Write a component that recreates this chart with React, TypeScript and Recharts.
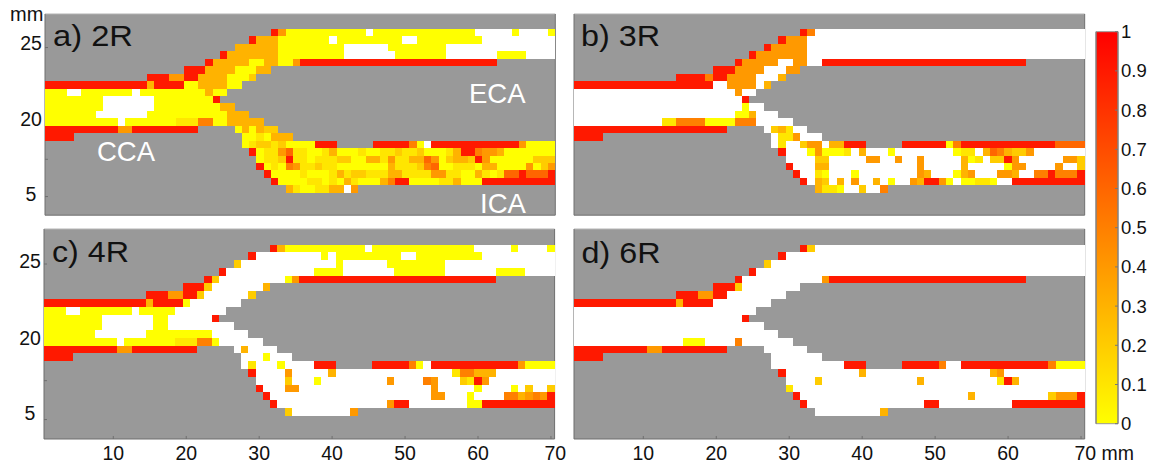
import {
  Bar,
  BarChart,
  CartesianGrid,
  Scatter,
  ScatterChart,
  XAxis,
  YAxis,
} from 'recharts';

// Each row is a list of runs: first char = value (0-9 tenths, - white, . no data), rest = run length
// Rows start at row 3 of 27, anything not listed is grey
const rows2R = [
  '.31 9 4 011 - 014 -5 0 -4 0',
  '.28 9 33 07 - 09 -2 09 -10',
  '.26 36 09 -6 08 -15',
  '.24 9 37 09 -7 07 -7 04 -4',
  '.22 9 35 02 32 02 4 927',
  '.19 93 34 03 32',
  '.14 93 42 92 34 03 2',
  '914 3 94 02 34 02',
  '03 -2 07 - 09 3 02',
  '08 -7 08 9',
  '08 -7 09 32',
  '07 -7 011 33',
  '010 - 07 13 52 02 35',
  '910 42 99 .5 0 3 0 3 2 2',
  '94 .23 02 1 0 33',
  '.27 0 1 22 1 2 04 93 .5 95 5 0 - 912 4 04',
  '.28 9 0 12 4 6 12 02 1 3 03 1 02 12 2 12 2 03 1 3 92 5 42 3 07',
  '.29 0 12 2 9 12 0 13 22 02 32 1 4 12 32 6 4 0 2 32 2 9 4 06 23',
  '.29 9 0 1 0 5 4 12 2 12 07 3 13 2 5 6 02 13 0 32 04 4 0 2 4',
  '.30 9 04 1 03 1 3 1 22 13 32 14 42 12 02 3 1 0 1 62 9 63 9',
  '.31 9 04 12 0 1 0 3 1 03 3 5 92 04 12 3 03 910',
  '.33 3 1 02 12 32 - 4',
];

const rows3R = [
  '.31 9 5 -37',
  '.28 9 43 -38',
  '.26 9 45 -38',
  '.24 9 47 -38',
  '.22 9 45 -2 42 -2 928',
  '.19 93 44 -3 42',
  '.14 94 5 92 44 -3 3',
  '919 -2 44 - 3',
  '-22 4 -2',
  '-23 9',
  '-23 0 -2',
  '-22 02 3 -3',
  '-12 12 54 04 53 -5',
  '921 .5 - 2 3 1 -2',
  '94 .23 - 12 4 -3',
  '.27 - 1 -2 2 42 - 32 93 .5 96 0 5 913 64',
  '.28 9 -3 0 4 03 1 - 3 -3 0 -8 0 12 - 3 6 5 3 22 4 -7',
  '.29 -4 22 -5 42 -2 4 -2 4 -5 3 0 1 - 22 9 4 -6 42 2',
  '.29 9 -3 32 -12 4 -5 3 -5 0 42 -4 4 -2 2',
  '.30 9 -2 1 0 -3 0 -8 4 3 -3 0 3 4 -3 42 3 -2 52 9 53 9',
  '.31 9 - 3 2 - 3 - 4 -2 3 - 0 -2 4 3 92 4 0 - 02 12 0 -2 910',
  '.33 3 12 0 -2 2 -2 5',
];

const rows4R = [
  '.31 9 3 011 - 014 -5 0 -4 0',
  '.28 9 -9 0 - 09 -2 09 -10',
  '.26 2 -13 0 -6 08 -15',
  '.24 9 -12 04 -7 07 -7 04 -4',
  '.22 9 2 -9 0 4 927',
  '.19 93 2 -7 3',
  '.14 93 42 92 2 -6 2',
  '914 3 94 0 -7',
  '03 -2 07 - 05 -7',
  '08 -7 02 -6 9',
  '08 -7 02 -9',
  '07 -7 09 -5',
  '010 - 07 13 52 0 -6',
  '910 42 99 .5 - 3 -4',
  '94 .23 -3 0 -3',
  '.27 - 1 -3 0 -4 93 .5 95 5 0 - 912 4 04',
  '.28 9 -4 4 -5 3 -16 1 52 33 -8',
  '.29 -4 2 -3 0 -9 4 -4 5 4 -3 2 1 9 4 -9',
  '.29 9 -3 42 -18 4 -5 0 -4 0 - 2 -2 2',
  '.30 9 -22 42 -3 0 -4 52 3 4 5 4 9',
  '.31 9 -15 4 92 -8 02 910',
  '.33 2 -8 4',
];

const rows6R = [
  '.31 9 2 -37',
  '.28 9 -41',
  '.26 2 -43',
  '.24 9 -45',
  '.22 9 -11 4 927',
  '.19 93 2 -8',
  '.14 93 42 92 -8',
  '914 3 94 -8',
  '-25',
  '-23 9',
  '-26',
  '-28',
  '-15 03 -4 5 -7',
  '910 42 99 .5 -6',
  '94 .23 -7',
  '.27 -10 93 .5 95 5 -2 912 5 04',
  '.28 9 -10 3 -17 3 4 -11',
  '.29 -4 2 -13 3 -10 1 9 3 -9',
  '.29 1 -40',
  '.30 9 -23 3 -10 2 43 9',
  '.31 9 -16 92 -10 910',
  '.33 -9 3',
];

const xTicks = [10, 20, 30, 40, 50, 60, 70];
const yTicks = [5, 10, 15, 20, 25];
const yTickLabels = ['25', '', '20', '', '5'];
const barTicks = [0, 0.1, 0.2, 0.3, 0.4, 0.5, 0.6, 0.7, 0.8, 0.9, 1];

const FONT = '"Liberation Sans", Arial, sans-serif';
const GREY = '#999999';
const AXIS = '#6e6e6e';
const TICK_FONT = 19.5;
const ROOM = 60; // spare width right of a panel so "70 mm" is not clipped

type Cell = { x: number; y: number; v: number | null };

const parseRows = (rows: string[]) => {
  const cells: Cell[] = [];
  rows.forEach((row, i) => {
    let col = 1;
    row.split(' ').forEach((run) => {
      const ch = run[0];
      const n = run.length > 1 ? Number(run.slice(1)) : 1;
      for (let k = 0; k < n; k++) {
        if (ch !== '.') cells.push({ x: col, y: i + 3, v: ch === '-' ? null : Number(ch) });
        col++;
      }
    });
  });
  return cells;
};

const cellColor = (v: number | null) =>
  v === null ? '#ffffff' : `rgb(255,${Math.round(255 * (1 - v / 10))},0)`;

type PanelProps = {
  rows: string[];
  left: number;
  top: number;
  w: number;
  h: number;
  showX?: boolean;
  xEnd?: string;
  yShift?: number[];
};

const Panel = ({ rows, left, top, w, h, showX, xEnd, yShift }: PanelProps) => {
  const data = parseRows(rows);
  const cw = w / 70;
  const ch = h / 27;

  const drawCell = (p: any) => (
    <rect
      x={p.cx - cw / 2}
      y={p.cy - ch / 2}
      width={cw}
      height={ch}
      fill={cellColor(p.payload.v)}
      shapeRendering="crispEdges"
    />
  );

  const xTick = (p: any) => {
    const val = p.payload.value;
    const y = 1 + h + 21.5;
    if (val === 70) {
      return (
        <text x={p.x - 6.5} y={y} fontSize={TICK_FONT} fontFamily={FONT} fill="#111">
          {xEnd ?? '70'}
        </text>
      );
    }
    return (
      <text x={p.x} y={y} textAnchor="middle" fontSize={TICK_FONT} fontFamily={FONT} fill="#111">
        {val}
      </text>
    );
  };

  const yTick = (p: any) => {
    const i = yTicks.indexOf(p.payload.value);
    if (!yTickLabels[i]) return <g />;
    return (
      <text
        x={16}
        y={p.y + 6.8 + (yShift ? yShift[i] : 0)}
        textAnchor="middle"
        fontSize={TICK_FONT}
        fontFamily={FONT}
        fill="#111"
      >
        {yTickLabels[i]}
      </text>
    );
  };

  return (
    <div style={{ position: 'absolute', left: left - 30, top: top - 1 }}>
      <ScatterChart
        width={30 + w + 1 + ROOM}
        height={1 + h + 30}
        margin={{ top: 0, right: ROOM, bottom: 0, left: 0 }}
      >
        <CartesianGrid fill={GREY} stroke="none" horizontal={false} vertical={false} />
        <XAxis
          dataKey="x"
          type="number"
          domain={[0.5, 70.5]}
          ticks={xTicks}
          interval={0}
          height={30}
          tickSize={-3}
          stroke={AXIS}
          tick={showX ? xTick : false}
        />
        <XAxis
          xAxisId="top"
          orientation="top"
          type="number"
          domain={[0.5, 70.5]}
          ticks={xTicks}
          interval={0}
          height={1}
          tickSize={-3}
          stroke="#b5b5b5"
          tickLine={{ stroke: AXIS }}
          tick={false}
        />
        <YAxis
          dataKey="y"
          type="number"
          reversed
          domain={[0.5, 27.5]}
          ticks={yTicks}
          interval={0}
          width={30}
          tickSize={-3}
          stroke={AXIS}
          tick={yShift ? yTick : false}
        />
        <YAxis
          yAxisId="right"
          orientation="right"
          type="number"
          reversed
          domain={[0.5, 27.5]}
          ticks={yTicks}
          interval={0}
          width={1}
          tickSize={-3}
          stroke={AXIS}
          tick={false}
        />
        <Scatter data={data} shape={drawCell} isAnimationActive={false} />
      </ScatterChart>
    </div>
  );
};

const ColorBar = () => (
  <div style={{ position: 'absolute', left: 1094.7, top: 20 }}>
    <BarChart
      width={55}
      height={420}
      data={[{ name: 'c', v: 1 }]}
      barCategoryGap={0}
      margin={{ top: 11.7, right: 0, bottom: 16.3, left: 0 }}
    >
      <defs>
        <linearGradient id="autumnBar" x1="0" y1="0" x2="0" y2="1">
          <stop offset="0" stopColor="#ff0000" />
          <stop offset="1" stopColor="#ffff00" />
        </linearGradient>
      </defs>
      <XAxis dataKey="name" hide />
      <YAxis
        orientation="right"
        type="number"
        domain={[0, 1]}
        ticks={barTicks}
        interval={0}
        width={32}
        tickSize={-3}
        tickMargin={6}
        stroke="#777"
        tick={{ fontSize: 18.5, fontFamily: FONT, fill: '#111', textAnchor: 'start' }}
      />
      <YAxis yAxisId="left" orientation="left" type="number" domain={[0, 1]} ticks={barTicks} interval={0} width={1} tickSize={-3} stroke="#777" tick={false} />
      <Bar dataKey="v" fill="url(#autumnBar)" stroke="#999" isAnimationActive={false} />
    </BarChart>
  </div>
);

const Title = ({ x, y, len, children }: { x: number; y: number; len: number; children: string }) => (
  <text x={x} y={y} fontSize={30} fontFamily={FONT} fill="#111" textLength={len} lengthAdjust="spacingAndGlyphs">
    {children}
  </text>
);

const Note = ({ x, y, children }: { x: number; y: number; children: string }) => (
  <text x={x} y={y} fontSize={27.5} fontFamily={FONT} fill="#fff">
    {children}
  </text>
);

export default function App() {
  return (
    <div style={{ position: 'absolute', left: 0, top: 0, width: 1149, height: 464, background: '#fff', overflow: 'hidden' }}>
      <Panel rows={rows2R} left={45.3} top={13.5} w={510.3} h={201.2} yShift={[-4, 0, -3, 0, -2]} />
      <Panel rows={rows3R} left={574.3} top={13.5} w={510.7} h={201.2} />
      <Panel rows={rows4R} left={44.3} top={228.7} w={510.6} h={210} showX yShift={[-3, 0, -3.5, 0, -6]} />
      <Panel rows={rows6R} left={574.3} top={228.7} w={510.7} h={210} showX xEnd="70 mm" />
      <ColorBar />
      <svg width={1149} height={464} style={{ position: 'absolute', left: 0, top: 0, pointerEvents: 'none' }}>
        <text x={10} y={21} fontSize={20} fontFamily={FONT} fill="#111">mm</text>
        <Title x={53} y={46} len={80}>a) 2R</Title>
        <Title x={581} y={46} len={79}>b) 3R</Title>
        <Title x={52} y={262} len={77}>c) 4R</Title>
        <Title x={581.5} y={263} len={79}>d) 6R</Title>
        <Note x={97} y={161}>CCA</Note>
        <Note x={469} y={103}>ECA</Note>
        <Note x={480} y={213}>ICA</Note>
      </svg>
    </div>
  );
}
